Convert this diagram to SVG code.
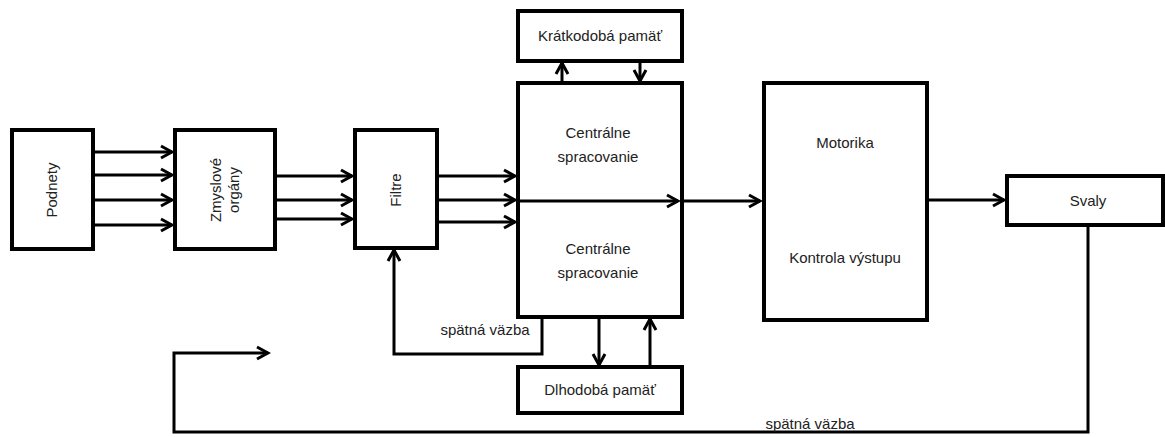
<svg xmlns="http://www.w3.org/2000/svg" width="1165" height="437" viewBox="0 0 1165 437">
<style>
.box{fill:#fff;stroke:#000;stroke-width:4}
.ln{fill:none;stroke:#000;stroke-width:3}
.t{font-family:"Liberation Sans",Arial,sans-serif;font-size:15px;fill:#222;text-anchor:middle}
</style>
<defs>
<marker id="a" markerUnits="userSpaceOnUse" markerWidth="16" markerHeight="16" refX="13" refY="8" orient="auto">
<path d="M2,2 L13,8 L2,14" fill="none" stroke="#000" stroke-width="3"/>
</marker>
</defs>
<rect width="1165" height="437" fill="#fff"/>
<g id="podnety">
<rect class="box" x="12" y="130" width="81" height="119"/>
<text class="t" transform="translate(57,190) rotate(-90)">Podnety</text>
</g>
<g id="zmyslove">
<rect class="box" x="175" y="130" width="100" height="119"/>
<text class="t" transform="translate(225,190) rotate(-90)"><tspan x="0" y="-4">Zmyslové</tspan><tspan x="0" y="14">orgány</tspan></text>
</g>
<g id="filtre">
<rect class="box" x="355" y="130" width="82" height="118"/>
<text class="t" transform="translate(401,190) rotate(-90)">Filtre</text>
</g>
<g id="kratkodoba">
<rect class="box" x="518" y="11" width="164" height="50"/>
<text class="t" x="600" y="41">Krátkodobá pamäť</text>
</g>
<g id="centralne">
<rect class="box" x="518" y="83" width="164" height="234"/>
<text class="t" x="598" y="138">Centrálne</text>
<text class="t" x="598" y="162">spracovanie</text>
<text class="t" x="598" y="254">Centrálne</text>
<text class="t" x="598" y="278">spracovanie</text>
</g>
<g id="dlhodoba">
<rect class="box" x="518" y="367" width="164" height="46"/>
<text class="t" x="600" y="395">Dlhodobá pamäť</text>
</g>
<g id="motorika">
<rect class="box" x="764" y="83" width="163" height="237"/>
<text class="t" x="845" y="148">Motorika</text>
<text class="t" x="845" y="263">Kontrola výstupu</text>
</g>
<g id="svaly">
<rect class="box" x="1007" y="176" width="156" height="49"/>
<text class="t" x="1088" y="206">Svaly</text>
</g>
<g id="connectors">
<line class="ln" x1="93" y1="152" x2="172" y2="152" marker-end="url(#a)"/>
<line class="ln" x1="93" y1="175" x2="172" y2="175" marker-end="url(#a)"/>
<line class="ln" x1="93" y1="200" x2="172" y2="200" marker-end="url(#a)"/>
<line class="ln" x1="93" y1="225" x2="172" y2="225" marker-end="url(#a)"/>
<line class="ln" x1="275" y1="176" x2="352" y2="176" marker-end="url(#a)"/>
<line class="ln" x1="275" y1="200" x2="352" y2="200" marker-end="url(#a)"/>
<line class="ln" x1="275" y1="219" x2="352" y2="219" marker-end="url(#a)"/>
<line class="ln" x1="437" y1="176" x2="515" y2="176" marker-end="url(#a)"/>
<line class="ln" x1="437" y1="200" x2="515" y2="200" marker-end="url(#a)"/>
<line class="ln" x1="437" y1="222" x2="515" y2="222" marker-end="url(#a)"/>
<line class="ln" x1="518" y1="201" x2="678" y2="201" stroke-width="5" marker-end="url(#a)"/>
<line class="ln" x1="682" y1="201" x2="760" y2="201" marker-end="url(#a)"/>
<line class="ln" x1="562" y1="83" x2="562" y2="63" marker-end="url(#a)"/>
<line class="ln" x1="640" y1="61" x2="640" y2="81" marker-end="url(#a)"/>
<line class="ln" x1="599" y1="317" x2="599" y2="365" marker-end="url(#a)"/>
<line class="ln" x1="650" y1="367" x2="650" y2="319" marker-end="url(#a)"/>
<polyline class="ln" points="542,317 542,354 394,354 394,250" marker-end="url(#a)"/>
<line class="ln" x1="927" y1="200" x2="1004" y2="200" marker-end="url(#a)"/>
<polyline class="ln" points="1088,224 1088,432 174,432 174,353 268,353" marker-end="url(#a)"/>
<text class="t" x="485" y="335">spätná väzba</text>
<text class="t" x="810" y="429">spätná väzba</text>
</g>
</svg>
